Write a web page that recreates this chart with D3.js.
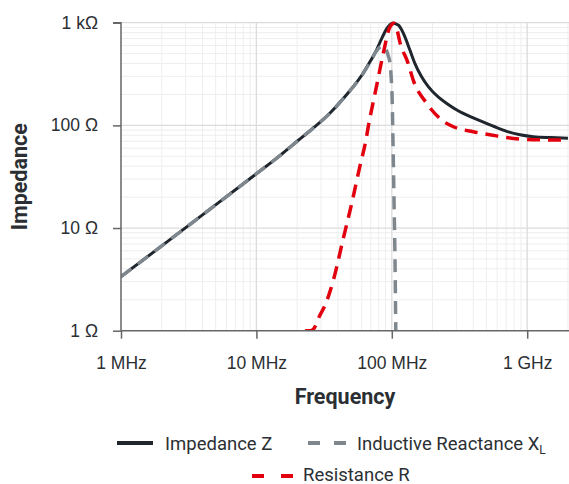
<!DOCTYPE html>
<html>
<head>
<meta charset="utf-8">
<script src="https://cdn.jsdelivr.net/npm/d3@7"></script>
<style>
  html, body { margin: 0; padding: 0; background: #fff; }
  svg { display: block; font-family: Roboto, "Noto Sans", sans-serif; }
</style>
</head>
<body>
<script>
// frequencies in MHz, impedances in ohm
const zFreq = [1, 2, 5, 10, 15, 20, 26, 35, 46.5, 60, 70, 77, 85, 92, 97, 102, 107, 112, 125, 136, 148, 166, 186, 221, 261, 300, 400, 563, 705, 885, 1110, 1500, 2000];
const zVals = [3.36, 6.7, 16.8, 33.8, 51, 70, 93, 132, 200, 308, 430, 541, 720, 880, 960, 995, 975, 945, 729, 541, 402, 297, 238, 188, 160, 142, 118, 98, 87.5, 81, 77.5, 76, 75];

const xlFreq = [1, 2, 5, 10, 15, 20, 26, 35, 46.5, 60, 70, 77, 82, 86, 90, 94, 97, 99, 100.5, 102, 103.8, 105.6, 107];
const xlVals = [3.36, 6.7, 16.8, 33.8, 51, 70, 93, 132, 200, 305, 425, 530, 580, 592, 560, 480, 400, 290, 190, 72, 19, 4.9, 1];

const rFreq = [22.9, 25, 26.3, 29.5, 32, 37, 43.8, 50.6, 58, 64.4, 67, 77, 86.5, 97, 104, 108, 115, 132, 144, 181, 233, 285, 400, 594, 705, 1110, 2000];
const rVals = [1.0, 1.0, 1.03, 1.42, 1.75, 3.1, 7.9, 17.4, 39.5, 72, 97, 238, 502, 912, 985, 900, 640, 402, 276, 164, 113, 97, 86.7, 79, 76, 72.5, 72];

const yTicks = [1, 10, 100, 1000];
const yTickLabels = ["1 Ω", "10 Ω", "100 Ω", "1 kΩ"];
const xTicks = [1, 10, 100, 1000];
const xTickLabels = ["1 MHz", "10 MHz", "100 MHz", "1 GHz"];

const W = 569, H = 484;
const LEFT = 121, RIGHT = 569, TOP = 22.7, BOTTOM = 330.7;
const TEXT = "#2b2f33";

const svg = d3.select("body").append("svg").attr("width", W).attr("height", H);

const x = d3.scaleLog().domain([1, 2000]).range([LEFT, LEFT + Math.log10(2000) * 135.4]);
const y = d3.scaleLog().domain([1, 1000]).range([BOTTOM, TOP]);

// grid
let minorX = [], minorY = [];
[1, 10, 100, 1000].forEach(d => {
  for (let k = 2; k <= 9; k++) {
    if (d * k <= 2000) minorX.push(d * k);
    if (d * k < 1000) minorY.push(d * k);
  }
});
const grid = svg.append("g");
grid.selectAll(".mx").data(minorX).enter().append("line")
  .attr("x1", d => x(d)).attr("x2", d => x(d)).attr("y1", TOP).attr("y2", BOTTOM)
  .attr("stroke", "#eeeeee").attr("stroke-width", 1);
grid.selectAll(".my").data(minorY).enter().append("line")
  .attr("x1", LEFT).attr("x2", RIGHT).attr("y1", d => y(d)).attr("y2", d => y(d))
  .attr("stroke", "#eeeeee").attr("stroke-width", 1);
grid.selectAll(".Mx").data(xTicks.slice(1)).enter().append("line")
  .attr("x1", d => x(d)).attr("x2", d => x(d)).attr("y1", TOP).attr("y2", BOTTOM)
  .attr("stroke", "#dcdcdc").attr("stroke-width", 1.3);
grid.selectAll(".My").data(yTicks.slice(1)).enter().append("line")
  .attr("x1", LEFT).attr("x2", RIGHT).attr("y1", d => y(d)).attr("y2", d => y(d))
  .attr("stroke", "#dcdcdc").attr("stroke-width", 1.3);

// curves
svg.append("clipPath").attr("id", "clip").append("rect")
  .attr("x", LEFT).attr("y", TOP - 10).attr("width", RIGHT - LEFT).attr("height", BOTTOM - TOP + 10);

const line = d3.line().x(d => x(d[0])).y(d => y(d[1])).curve(d3.curveMonotoneX);
const plot = svg.append("g").attr("clip-path", "url(#clip)");

plot.append("path").datum(d3.zip(zFreq, zVals)).attr("d", line)
  .attr("fill", "none").attr("stroke", "#1f262d").attr("stroke-width", 3);
plot.append("path").datum(d3.zip(xlFreq, xlVals)).attr("d", line)
  .attr("fill", "none").attr("stroke", "#7f878e").attr("stroke-width", 3.5)
  .attr("stroke-dasharray", "13,8");
plot.append("path").datum(d3.zip(rFreq, rVals)).attr("d", line)
  .attr("fill", "none").attr("stroke", "#e2000f").attr("stroke-width", 3.5)
  .attr("stroke-dasharray", "13,8");

// axes
const yAxis = svg.append("g").attr("transform", `translate(${LEFT},0)`)
  .call(d3.axisLeft(y).tickValues(yTicks).tickFormat((d, i) => yTickLabels[i]).tickSize(8).tickPadding(15));
const xAxis = svg.append("g").attr("transform", `translate(0,${BOTTOM})`)
  .call(d3.axisBottom(x).tickValues(xTicks).tickFormat((d, i) => xTickLabels[i]).tickSize(8).tickPadding(18));
[yAxis, xAxis].forEach(a => {
  a.select(".domain").attr("stroke", "#666").attr("stroke-width", 1.5);
  a.selectAll(".tick line").attr("stroke", "#666").attr("stroke-width", 1.5);
  a.selectAll(".tick text").attr("fill", TEXT).style("font-size", "17.5px");
});
yAxis.select(".domain").attr("d", `M-8,${TOP}H0V${BOTTOM}`);
xAxis.select(".domain").attr("d", `M${LEFT},0H${RIGHT}`);

svg.append("text").attr("x", (LEFT + RIGHT) / 2).attr("y", 404)
  .attr("text-anchor", "middle").attr("fill", TEXT)
  .style("font-size", "21.5px").style("font-weight", "700").text("Frequency");
svg.append("text").attr("transform", `translate(27,${(TOP + BOTTOM) / 2}) rotate(-90)`)
  .attr("text-anchor", "middle").attr("fill", TEXT)
  .style("font-size", "21.5px").style("font-weight", "700").text("Impedance");

// legend
const legend = svg.append("g");
legend.append("line").attr("x1", 117).attr("x2", 153).attr("y1", 443).attr("y2", 443)
  .attr("stroke", "#1f262d").attr("stroke-width", 4);
legend.append("text").attr("x", 165).attr("y", 449.5).attr("fill", TEXT)
  .style("font-size", "18.5px").text("Impedance Z");
legend.append("line").attr("x1", 308).attr("x2", 346).attr("y1", 443).attr("y2", 443)
  .attr("stroke", "#7f878e").attr("stroke-width", 4).attr("stroke-dasharray", "12,14");
const xl = legend.append("text").attr("x", 357).attr("y", 449.5).attr("fill", TEXT)
  .style("font-size", "18.5px").text("Inductive Reactance X");
xl.append("tspan").attr("dy", 4).style("font-size", "12px").text("L");
legend.append("line").attr("x1", 252).attr("x2", 293).attr("y1", 476).attr("y2", 476)
  .attr("stroke", "#e2000f").attr("stroke-width", 4).attr("stroke-dasharray", "12,17");
legend.append("text").attr("x", 303).attr("y", 480.5).attr("fill", TEXT)
  .style("font-size", "18.5px").text("Resistance R");
</script>
</body>
</html>
